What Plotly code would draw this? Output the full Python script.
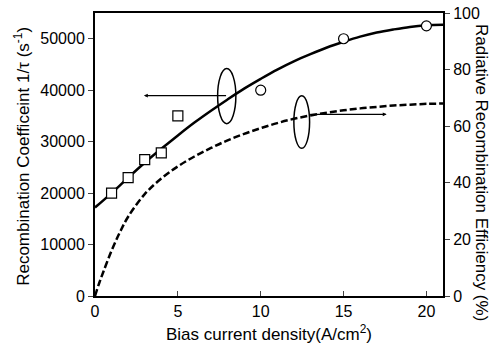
import plotly.graph_objects as go

# Data
sq_x = [1, 2, 3, 4, 5]
sq_y = [20000, 23000, 26500, 27800, 35000]
ci_x = [10, 15, 20]
ci_y = [40000, 50000, 52500]

fit_x = [0, 1, 2, 3, 4, 5, 6, 7, 8, 9, 10, 11, 12, 13, 14, 15, 16, 17, 18, 19, 20, 21]
fit_y = [17200, 20000, 23000, 25900, 28600, 31200, 33700, 36000, 38200, 40300, 42200,
         44000, 45600, 47000, 48300, 49400, 50400, 51200, 51800, 52300, 52600, 52700]

eff_x = [0, 0.25, 0.5, 1, 1.5, 2, 3, 4, 5, 6, 7, 8, 9, 10, 11, 12, 13, 14, 15, 16, 17, 18, 19, 20, 21]
eff_y = [0, 4.5, 8.5, 16, 22.5, 28, 36, 41.5, 45.8, 49.3, 52.3, 55, 57.3, 59.3, 61.1, 62.6, 63.8,
         64.8, 65.6, 66.3, 66.8, 67.3, 67.6, 67.9, 68]

x_ticks = [0, 5, 10, 15, 20]
y1_ticks = [0, 10000, 20000, 30000, 40000, 50000]
y1_labels = ["0", "10000", "20000", "30000", "40000", "50000"]
y2_ticks = [0, 20, 40, 60, 80, 100]

FONT = "Liberation Sans, Arial, sans-serif"

fig = go.Figure()
fig.add_trace(go.Scatter(x=fit_x, y=fit_y, mode="lines", line=dict(color="black", width=2.5, shape="spline"),
                         showlegend=False, hoverinfo="skip"))
fig.add_trace(go.Scatter(x=eff_x, y=eff_y, mode="lines", yaxis="y2",
                         line=dict(color="black", width=2.5, dash="7px,3px", shape="spline"),
                         showlegend=False, hoverinfo="skip"))
fig.add_trace(go.Scatter(x=sq_x, y=sq_y, mode="markers",
                         marker=dict(symbol="square", size=10, color="white", line=dict(color="black", width=1.2)),
                         showlegend=False))
fig.add_trace(go.Scatter(x=ci_x, y=ci_y, mode="markers",
                         marker=dict(symbol="circle", size=10, color="white", line=dict(color="black", width=1.2)),
                         showlegend=False))

# Ellipses
fig.add_shape(type="circle", xref="x", yref="y", x0=7.4, x1=8.5, y0=33500, y1=44200,
              line=dict(color="black", width=1.5))
fig.add_shape(type="circle", xref="x", yref="y", x0=12.0, x1=12.95, y0=28700, y1=38900,
              line=dict(color="black", width=1.5))

# Arrows
fig.add_annotation(x=2.95, y=38950, ax=8.0, ay=38950, xref="x", yref="y", axref="x", ayref="y",
                   showarrow=True, arrowhead=2, arrowsize=0.6, arrowwidth=1.3, arrowcolor="black", text="")
fig.add_annotation(x=17.6, y=35300, ax=12.9, ay=35300, xref="x", yref="y", axref="x", ayref="y",
                   showarrow=True, arrowhead=2, arrowsize=0.6, arrowwidth=1.3, arrowcolor="black", text="")

# Axis titles
fig.add_annotation(text="Recombination Coefficeint 1/τ (s<sup>-1</sup>)", xref="paper", yref="paper",
                   x=-0.21, y=0.495, xanchor="center", yanchor="middle", textangle=-90, showarrow=False,
                   font=dict(family=FONT, size=17, color="black"))
fig.add_annotation(text="Radiative Recombination Efficiency (%)", xref="paper", yref="paper",
                   x=1.111, y=0.436, xanchor="center", yanchor="middle", textangle=90, showarrow=False,
                   font=dict(family=FONT, size=17, color="black"))
fig.add_annotation(text="Bias current density(A/cm<sup>2</sup>)", xref="paper", yref="paper",
                   x=0.5, y=-0.131, xanchor="center", yanchor="middle", showarrow=False,
                   font=dict(family=FONT, size=17, color="black"))

fig.update_layout(
    width=492, height=345,
    margin=dict(l=95, r=49, t=13, b=49, autoexpand=False),
    paper_bgcolor="white", plot_bgcolor="white",
    font=dict(family=FONT, size=16, color="black"),
    xaxis=dict(range=[0, 21], tickvals=x_ticks, ticks="inside", ticklen=5, tickwidth=1.2, automargin=False,
               showline=True, linecolor="black", linewidth=2, mirror=True, showgrid=False, zeroline=False),
    yaxis=dict(range=[0, 55000], tickvals=y1_ticks, ticktext=y1_labels, ticks="outside", ticklen=5,
               tickwidth=1.2, automargin=False,
               showline=True, linecolor="black", linewidth=2, showgrid=False, zeroline=False),
    yaxis2=dict(range=[0, 100], tickvals=y2_ticks, ticks="outside", ticklen=5, tickwidth=1.2, automargin=False,
                overlaying="y", side="right", showline=True, linecolor="black", linewidth=2,
                showgrid=False, zeroline=False),
)

fig.write_html("out.html", config={"displayModeBar": False},
               post_script="document.body.style.margin='0';document.body.style.overflow='hidden';")
